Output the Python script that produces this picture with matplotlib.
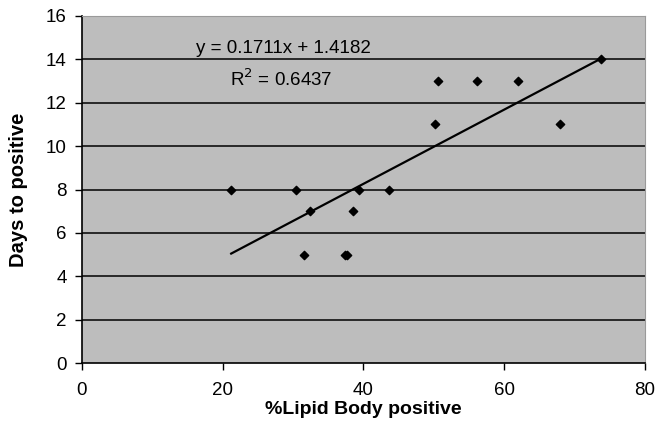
import numpy as np
import matplotlib.pyplot as plt

plt.rcParams['font.family'] = ['Liberation Sans', 'DejaVu Sans']

# %Lipid Body positive vs days to positive
lipid_pct = [21.2, 30.4, 32.4, 31.5, 37.4, 37.7, 38.5, 39.4, 43.6,
             50.2, 50.6, 56.2, 61.9, 67.9, 73.7]
days_pos = [8, 8, 7, 5, 5, 5, 7, 8, 8, 11, 13, 13, 13, 11, 14]

# trendline coefficients as printed on the chart
slope = 0.1711
intercept = 1.4182
r_squared = 0.6437

xticks = [0, 20, 40, 60, 80]
yticks = [0, 2, 4, 6, 8, 10, 12, 14, 16]

fig = plt.figure(figsize=(6.57, 4.37), dpi=100)
ax = fig.add_axes([0.1248, 0.1693, 0.8569, 0.7941])
ax.set_facecolor('#bdbdbd')

for yv in yticks[1:-1]:
    ax.axhline(yv, color='black', lw=1.1, zorder=1)

ax.scatter(lipid_pct, days_pos, marker='D', s=18, color='black', zorder=3)

xs = np.array([min(lipid_pct), max(lipid_pct)])
ax.plot(xs, slope * xs + intercept, color='black', lw=1.6, zorder=2)

ax.text(28.6, 14.5, f'y = {slope}x + {intercept}', ha='center', va='center', fontsize=13.5)
ax.text(28.3, 13.1, f'R$^2$ = {r_squared}', ha='center', va='center', fontsize=13.5)

ax.set_xlim(0, 80)
ax.set_ylim(0, 16)
ax.set_xticks(xticks)
ax.set_yticks(yticks)
ax.tick_params(axis='both', labelsize=13.5, direction='out', length=5, width=1, colors='black')
ax.tick_params(axis='x', pad=9)
ax.tick_params(axis='y', pad=6)

for side in ['top', 'right']:
    ax.spines[side].set_color('#9a9a9a')
    ax.spines[side].set_linewidth(0.8)
for side in ['left', 'bottom']:
    ax.spines[side].set_color('black')
    ax.spines[side].set_linewidth(1.2)

ax.set_xlabel('%Lipid Body positive', fontsize=14, fontweight='bold', labelpad=1)
ax.set_ylabel('Days to positive', fontsize=14.5, fontweight='bold', labelpad=13)

fig.savefig('out.png', dpi=100)
